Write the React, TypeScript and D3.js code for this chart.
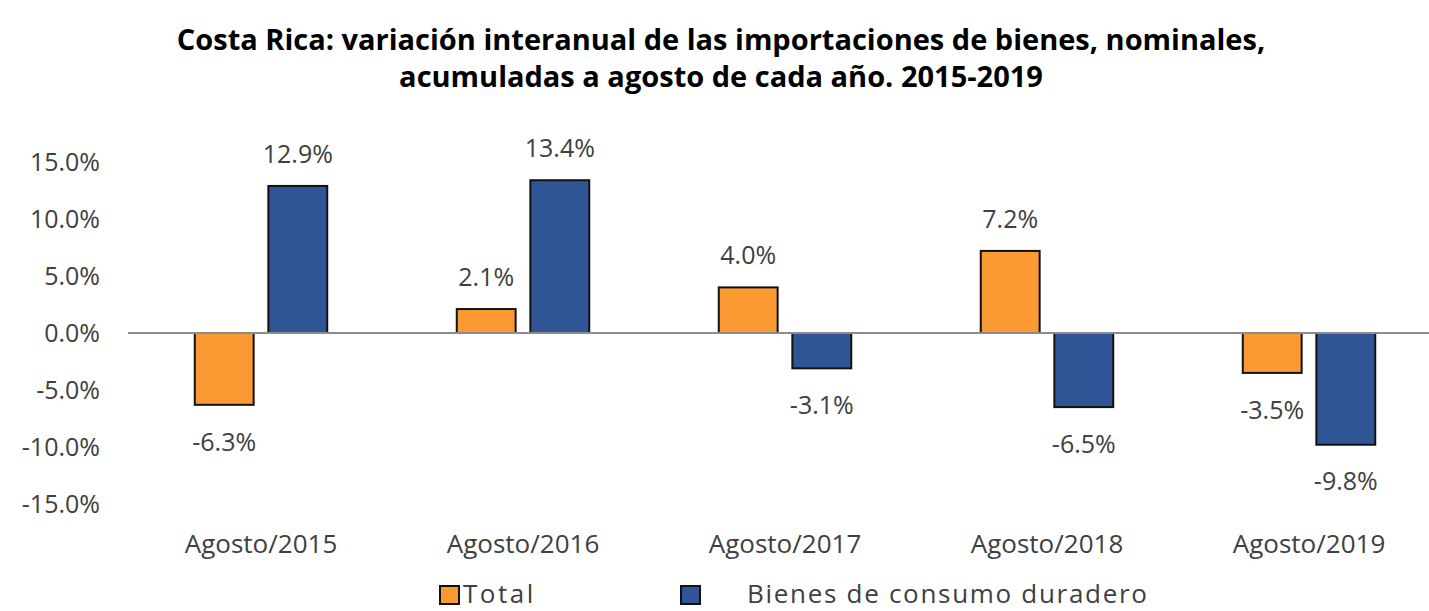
import React from 'react'
import * as d3 from 'd3'

const width = 1429
const height = 611
const margin = { top: 162, right: -11, bottom: 107, left: 130 }

const categories = ['Agosto/2015', 'Agosto/2016', 'Agosto/2017', 'Agosto/2018', 'Agosto/2019']
const seriesNames = ['Total', 'Bienes de consumo duradero']
const totalValues = [-6.3, 2.1, 4.0, 7.2, -3.5]
const bienesValues = [12.9, 13.4, -3.1, -6.5, -9.8]
const yTicks = [15, 10, 5, 0, -5, -10, -15]
const colors = ['#FB9A33', '#2F5597']

const fmt = (v: number) => v.toFixed(1) + '%'
const font = "'Open Sans', 'Noto Sans', sans-serif"
const textColor = '#404040'

export default function App() {
    const xScale = d3
        .scaleBand<string>()
        .domain(categories)
        .range([margin.left, width - margin.right])
        .padding(0)

    const inner = d3
        .scaleBand<string>()
        .domain(seriesNames)
        .range([0, xScale.bandwidth()])
        .paddingInner(0.2)
        .paddingOuter(0.88)

    const yScale = d3
        .scaleLinear()
        .domain([-15, 15])
        .range([height - margin.bottom, margin.top])

    const series = [totalValues, bienesValues]

    return (
        <svg
            width={width}
            height={height}
            style={{ position: 'absolute', left: 0, top: 0, background: '#fff' }}
            fontFamily={font}
        >
            {/* title */}
            <text x={721} y={50} textAnchor="middle" fontSize={29} fontWeight="bold" fill="#000">
                Costa Rica: variación interanual de las importaciones de bienes, nominales,
            </text>
            <text x={721} y={87} textAnchor="middle" fontSize={29} fontWeight="bold" fill="#000">
                acumuladas a agosto de cada año. 2015-2019
            </text>

            {/* y axis labels */}
            {yTicks.map((t) => (
                <text
                    key={t}
                    x={100}
                    y={yScale(t)}
                    dy="0.35em"
                    textAnchor="end"
                    fontSize={25}
                    fill={textColor}
                >
                    {fmt(t)}
                </text>
            ))}

            {/* bars */}
            {series.map((vals, si) =>
                vals.map((v, i) => {
                    const x = (xScale(categories[i]) as number) + (inner(seriesNames[si]) as number)
                    const y0 = yScale(Math.max(0, v))
                    const h = Math.abs(yScale(v) - yScale(0))
                    const cx = x + inner.bandwidth() / 2
                    const ly = v >= 0 ? yScale(v) - 32 : yScale(v) + 37
                    return (
                        <g key={si + '-' + i}>
                            <rect
                                x={x}
                                y={y0}
                                width={inner.bandwidth()}
                                height={h}
                                fill={colors[si]}
                                stroke="#111"
                                strokeWidth={2}
                            />
                            <text
                                x={cx}
                                y={ly}
                                dy="0.35em"
                                textAnchor="middle"
                                fontSize={25}
                                fill={textColor}
                            >
                                {fmt(v)}
                            </text>
                        </g>
                    )
                })
            )}

            {/* zero line */}
            <line
                x1={128}
                x2={width}
                y1={yScale(0)}
                y2={yScale(0)}
                stroke="#8c8c8c"
                strokeWidth={2}
            />

            {/* category labels */}
            {categories.map((c) => (
                <text
                    key={c}
                    x={(xScale(c) as number) + xScale.bandwidth() / 2}
                    y={553}
                    textAnchor="middle"
                    fontSize={26}
                    fill={textColor}
                >
                    {c}
                </text>
            ))}

            {/* legend */}
            <g>
                <rect x={440} y={586} width={19} height={18} fill={colors[0]} stroke="#111" strokeWidth={2} />
                <text x={463} y={603} fontSize={26} fill={textColor} letterSpacing={2.5}>
                    {seriesNames[0]}
                </text>
                <rect x={681} y={586} width={19} height={18} fill={colors[1]} stroke="#111" strokeWidth={2} />
                <text x={747} y={603} fontSize={26} fill={textColor} letterSpacing={1.7}>
                    {seriesNames[1]}
                </text>
            </g>
        </svg>
    )
}
